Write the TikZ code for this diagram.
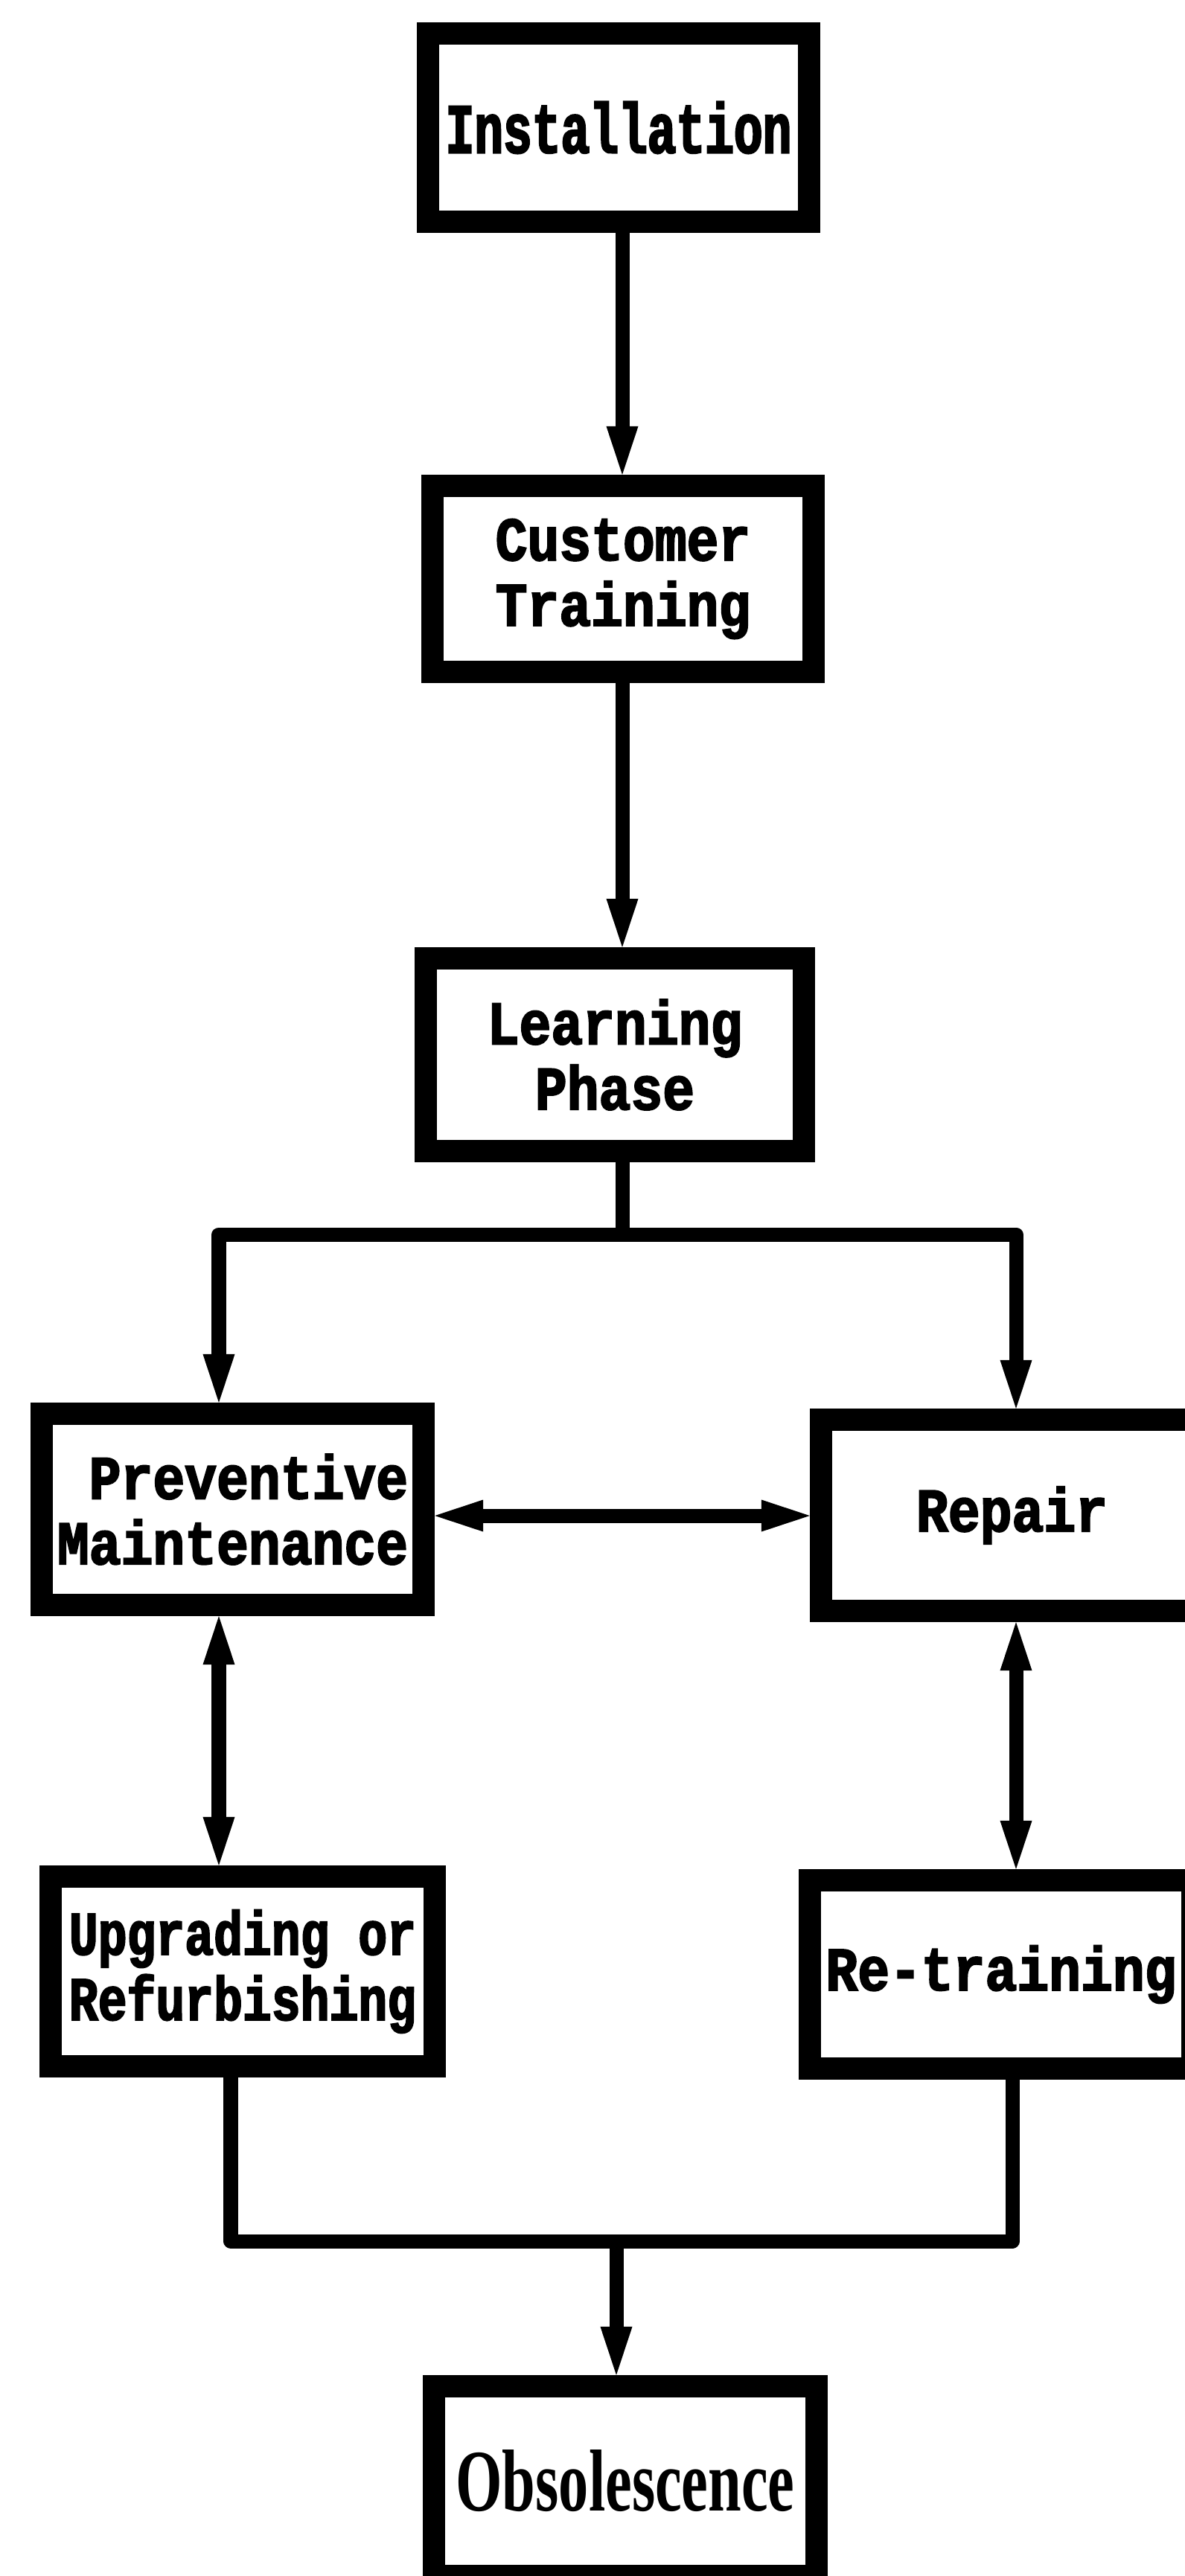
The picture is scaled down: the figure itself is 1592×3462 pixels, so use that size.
\documentclass[tikz,border=0pt]{standalone}
\usepackage{fontspec}
\usetikzlibrary{arrows.meta}
% plotter-style lettering
\newfontfamily\plotfont{Liberation Mono}[FakeStretch=0.86,FakeBold=2.5]
\newfontfamily\plotfontnarrow{Liberation Mono}[FakeStretch=0.68,FakeBold=2.5]
\newfontfamily\plotfontmid{Liberation Mono}[FakeStretch=0.78,FakeBold=2.5]
\newfontfamily\obsfont{Liberation Serif}[FakeStretch=0.68]
\begin{document}
\begin{tikzpicture}[x=0.01cm,y=-0.01cm,
  box/.style={draw, rectangle, line width=0.3cm, inner sep=0pt, align=center,
    font=\plotfont\bfseries\fontsize{23.6pt}{25pt}\selectfont},
  link/.style={line width=0.19cm, line join=round},
  >={Triangle[length=6.5mm,width=4.3mm,line width=0pt]}]
\fill[white] (0,0) rectangle (1592,3462);
\path[use as bounding box] (0,0) rectangle (1592,3462);
\clip (0,0) rectangle (1592,3462);

% boxes
\node[box, minimum width=5.12cm, minimum height=2.53cm,
  font=\plotfontnarrow\bfseries\fontsize{27pt}{29pt}\selectfont] (inst) at (831,171.5) {Installation};
\node[box, minimum width=5.12cm, minimum height=2.50cm] (cust) at (837,778) {Customer\\ Training};
\node[box, minimum width=5.07cm, minimum height=2.59cm] (learn) at (826,1417.5) {Learning\\Phase};
\node[box, minimum width=5.13cm, minimum height=2.57cm, align=right] (pm) at (312.5,2028.5) {Preventive\\Maintenance};
\node[box, minimum width=5.13cm, minimum height=2.57cm] (rep) at (1359.5,2036.5) {Repair};
\node[box, minimum width=5.16cm, minimum height=2.55cm,
  font=\plotfontmid\bfseries\fontsize{23.6pt}{25pt}\selectfont] (upg) at (326,2649.5) {Upgrading or\\Refurbishing};
\node[box, minimum width=5.14cm, minimum height=2.53cm] (ret) at (1345,2653.5) {Re-training};
\node[box, minimum width=5.14cm, minimum height=2.55cm,
  font=\obsfont\bfseries\fontsize{33.6pt}{36pt}\selectfont] (obs) at (840,3334.5) {Obsolescence};

% connector positions
\coordinate (sx) at (836,0);
\coordinate (lx) at (294,0);
\coordinate (rx) at (1365,0);
\coordinate (ux) at (310,0);
\coordinate (tx) at (1360,0);
\coordinate (ox) at (828,0);
\coordinate (topbar) at (0,1659);
\coordinate (midrow) at (0,2037);
\coordinate (botbar) at (0,3012);

% connectors
\draw[link,->] (inst.south -| sx) -- (cust.north -| sx);
\draw[link,->] (cust.south -| sx) -- (learn.north -| sx);
\draw[link] (learn.south -| sx) -- (topbar -| sx);
\draw[link,->] (topbar -| sx) -| (pm.north -| lx);
\draw[link,->] (topbar -| sx) -| (rep.north -| rx);
\draw[link,<->] (pm.east |- midrow) -- (rep.west |- midrow);
\draw[link,<->] (pm.south -| lx) -- (upg.north -| lx);
\draw[link,<->] (rep.south -| rx) -- (ret.north -| rx);
\draw[link] (upg.south -| ux) -- (botbar -| ux) -- (botbar -| tx) -- (ret.south -| tx);
\draw[link,->] (botbar -| ox) -- (obs.north -| ox);
\end{tikzpicture}
\end{document}
